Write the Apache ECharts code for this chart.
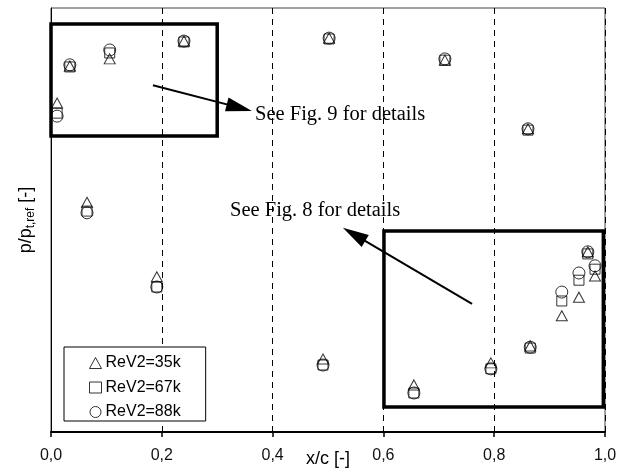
<!DOCTYPE html>
<html>
<head>
<meta charset="utf-8">
<script src="https://cdn.jsdelivr.net/npm/echarts@6/dist/echarts.min.js"></script>
<style>html,body{margin:0;padding:0;background:#fff}#c{width:629px;height:469px}</style>
</head>
<body>
<div id="c"></div>
<script>
// x/c positions of pressure taps
const xc = [0.011, 0.034, 0.065, 0.106, 0.191, 0.240, 0.491, 0.502, 0.655, 0.711, 0.794, 0.861, 0.865, 0.922, 0.953, 0.969, 0.982];
// normalised p/p_t,ref (arbitrary scale 0..1)
const re35k = [0.776, 0.863, 0.542, 0.880, 0.366, 0.922, 0.172, 0.929, 0.111, 0.877, 0.163, 0.715, 0.203, 0.274, 0.318, 0.425, 0.368];
const re67k = [0.752, 0.861, 0.521, 0.894, 0.342, 0.920, 0.158, 0.927, 0.092, 0.877, 0.149, 0.712, 0.198, 0.309, 0.358, 0.420, 0.384];
const re88k = [0.745, 0.866, 0.517, 0.901, 0.342, 0.922, 0.158, 0.929, 0.092, 0.880, 0.149, 0.715, 0.200, 0.330, 0.375, 0.425, 0.392];
const seriesNames = ['ReV2=35k', 'ReV2=67k', 'ReV2=88k'];

const chart = echarts.init(document.getElementById('c'), null, {renderer: 'canvas'});
const pairs = arr => xc.map((x, i) => [x, arr[i]]);
const hollow = {color: 'rgba(0,0,0,0)', borderColor: '#000', borderWidth: 1};

chart.setOption({
  animation: false,
  backgroundColor: '#fff',
  grid: {left: 51, right: 24, top: 8, bottom: 37, show: true, borderColor: '#444', borderWidth: 1, outerBoundsMode: 'none', containLabel: false},
  xAxis: {
    type: 'value', min: 0, max: 1, interval: 0.2,
    axisLine: {lineStyle: {color: '#000', width: 2}},
    axisTick: {show: true, length: 5, lineStyle: {color: '#000', width: 1.5}},
    axisLabel: {color: '#111', fontFamily: 'Liberation Sans', fontSize: 16, margin: 16,
      formatter: v => v.toFixed(1).replace('.', ',')},
    splitLine: {show: true, lineStyle: {color: '#000', type: [6, 5], width: 1}},
    name: 'x/c [-]', nameLocation: 'middle', nameGap: 18, nameMoveOverlap: false,
    nameTextStyle: {color: '#000', fontFamily: 'Liberation Sans', fontSize: 18}
  },
  yAxis: {
    type: 'value', min: 0, max: 1,
    axisLine: {show: true, lineStyle: {color: '#000', width: 1}},
    axisTick: {show: false}, axisLabel: {show: false}, splitLine: {show: false},
    name: '{a|p/p}{b|t,ref}{a| [-]}', nameLocation: 'middle', nameGap: 14, nameRotate: 90, nameMoveOverlap: false,
    nameTextStyle: {rich: {
      a: {color: '#000', fontFamily: 'Liberation Sans', fontSize: 18},
      b: {color: '#000', fontFamily: 'Liberation Sans', fontSize: 12, padding: [9, 0, 0, 0]}
    }}
  },
  legend: {
    orient: 'vertical', left: 64, top: 347, z: 10,
    data: seriesNames,
    backgroundColor: '#fff',
    borderColor: '#000', borderWidth: 1, padding: [8, 25, 1, 25],
    itemWidth: 12, itemHeight: 11, itemGap: 8.5,
    itemStyle: {color: 'rgba(0,0,0,0)', borderColor: '#000', borderWidth: 1},
    textStyle: {color: '#000', fontFamily: 'Liberation Sans', fontSize: 16, padding: [0, 0, 0, -1]}
  },
  graphic: [
    {type: 'text', x: 255, y: 115, style: {text: 'See Fig. 9 for details', font: '20.5px "Liberation Serif"', fill: '#000', verticalAlign: 'middle'}},
    {type: 'text', x: 230, y: 211, style: {text: 'See Fig. 8 for details', font: '20.5px "Liberation Serif"', fill: '#000', verticalAlign: 'middle'}}
  ],
  series: [
    {name: seriesNames[0], type: 'scatter', symbol: 'triangle', symbolSize: [11, 10], data: pairs(re35k), itemStyle: hollow, emphasis: {disabled: true},
      markArea: {silent: true, itemStyle: {color: 'rgba(0,0,0,0)', borderColor: '#000', borderWidth: 3.5},
        data: [
          [{coord: [0.0, 0.962]}, {coord: [0.30, 0.698]}],
          [{coord: [0.601, 0.474]}, {coord: [0.997, 0.059]}]
        ]},
      markLine: {silent: true, symbol: ['none', 'triangle'], symbolSize: [14, 26],
        lineStyle: {color: '#000', width: 2, type: 'solid'}, label: {show: false},
        itemStyle: {color: '#000'},
        data: [
          [{coord: [0.184, 0.818]}, {coord: [0.340, 0.765]}],
          [{coord: [0.760, 0.302]}, {coord: [0.547, 0.466]}]
        ]}
    },
    {name: seriesNames[1], type: 'scatter', symbol: 'rect', symbolSize: 10, data: pairs(re67k), itemStyle: hollow, emphasis: {disabled: true}},
    {name: seriesNames[2], type: 'scatter', symbol: 'circle', symbolSize: 12, data: pairs(re88k), itemStyle: hollow, emphasis: {disabled: true}}
  ]
});
</script>
</body>
</html>
